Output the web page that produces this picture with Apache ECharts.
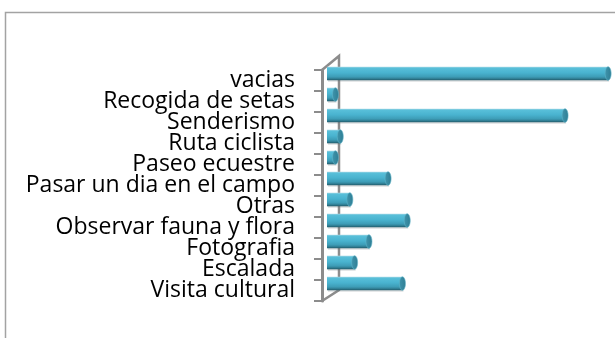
<!DOCTYPE html>
<html>
<head>
<meta charset="utf-8">
<style>
  html, body { margin: 0; padding: 0; background: #ffffff; }
  #chart { width: 615px; height: 338px; }
</style>
<script src="https://cdn.jsdelivr.net/npm/echarts@6/dist/echarts.min.js"></script>
</head>
<body>
<div id="chart"></div>
<script>
// Activities (top to bottom) and number of answers
const categories = [
  'vacias', 'Recogida de setas', 'Senderismo', 'Ruta ciclista', 'Paseo ecuestre',
  'Pasar un dia en el campo', 'Otras', 'Observar fauna y flora', 'Fotografia',
  'Escalada', 'Visita cultural'
];
const counts = [58, 1, 49, 2, 1, 12, 4, 16, 8, 5, 15];
const valueMax = 60;

// Plot layout (front plane of the pseudo-3D box)
const GRID_LEFT = 322, GRID_TOP = 70, GRID_BOTTOM = 37, GRID_RIGHT = 6;
const DEPTH_X = 17, DEPTH_Y = -14;     // offset of the back wall
const BAR_DX = 5, BAR_DY = -7;         // bars sit mid-way into the box
const BAR_HALF = 6.8, CAP_RX = 3;
const AXIS_GRAY = '#8c8c8c';

const chart = echarts.init(document.getElementById('chart'), null, { renderer: 'canvas' });

const bodyFill = new echarts.graphic.LinearGradient(0, 0, 0, 1, [
  { offset: 0.00, color: '#a9d9e6' },
  { offset: 0.10, color: '#58bfd9' },
  { offset: 0.45, color: '#49b3cf' },
  { offset: 0.75, color: '#3d9cb6' },
  { offset: 0.90, color: '#2e7a8f' },
  { offset: 1.00, color: '#1f5664' }
]);
const capFill = new echarts.graphic.LinearGradient(0, 0, 1, 0, [
  { offset: 0, color: '#3f95ad' },
  { offset: 1, color: '#2f7d93' }
]);

function renderCylinder(params, api) {
  const idx = api.value(0);
  const v = api.value(1);
  const start = api.coord([0, idx]);
  const end = api.coord([v, idx]);
  const x0 = start[0] + BAR_DX;
  const xc = end[0] + BAR_DX + CAP_RX + 0.7;
  const cy = start[1] + BAR_DY;
  return {
    type: 'group',
    children: [
      { // faint shadow under the cylinder
        type: 'rect',
        shape: { x: x0 + 1, y: cy + BAR_HALF - 0.5, width: xc - x0, height: 2 },
        style: { fill: 'rgba(120,130,135,0.25)' }
      },
      {
        type: 'rect',
        shape: { x: x0, y: cy - BAR_HALF, width: xc - x0, height: BAR_HALF * 2 },
        style: { fill: bodyFill }
      },
      {
        type: 'ellipse',
        shape: { cx: xc, cy: cy, rx: CAP_RX, ry: BAR_HALF },
        style: { fill: capFill, stroke: '#5fb3c8', lineWidth: 0.6 }
      }
    ]
  };
}

const gridH = 338 - GRID_TOP - GRID_BOTTOM;
const frontTop = [GRID_LEFT, GRID_TOP];
const frontBottom = [GRID_LEFT, GRID_TOP + gridH];
const backTop = [GRID_LEFT + DEPTH_X, GRID_TOP + DEPTH_Y];
const backBottom = [GRID_LEFT + DEPTH_X, GRID_TOP + gridH + DEPTH_Y + 3];

const option = {
  animation: false,
  backgroundColor: '#ffffff',
  graphic: [
    { // chart area border
      type: 'rect', silent: true, z: -10,
      shape: { x: 5.5, y: 12.5, width: 700, height: 400 },
      style: { fill: 'none', stroke: '#a3a3a3', lineWidth: 1.5 }
    },
    { // back wall edge and its links to the front axis
      type: 'polyline', silent: true, z: -5,
      shape: { points: [frontTop, backTop, backBottom, frontBottom] },
      style: { fill: 'none', stroke: AXIS_GRAY, lineWidth: 2.5 }
    }
  ],
  grid: { left: GRID_LEFT, top: GRID_TOP, bottom: GRID_BOTTOM, right: GRID_RIGHT, containLabel: false },
  xAxis: {
    type: 'value', min: 0, max: valueMax, show: false
  },
  yAxis: {
    type: 'category',
    data: categories,
    inverse: true,
    axisLine: { show: true, lineStyle: { color: AXIS_GRAY, width: 3 } },
    axisTick: { show: true, length: 8, lineStyle: { color: AXIS_GRAY, width: 2 } },
    axisLabel: {
      margin: 27,
      color: '#000000',
      fontFamily: 'Open Sans',
      fontSize: 23,
      lineHeight: 21,
      padding: [4, 0, 0, 0],
      interval: 0
    },
    splitLine: { show: false }
  },
  series: [{
    type: 'custom',
    renderItem: renderCylinder,
    encode: { x: 1, y: 0 },
    data: counts.map((c, i) => [i, c]),
    z: 5
  }]
};

chart.setOption(option);
</script>
</body>
</html>
